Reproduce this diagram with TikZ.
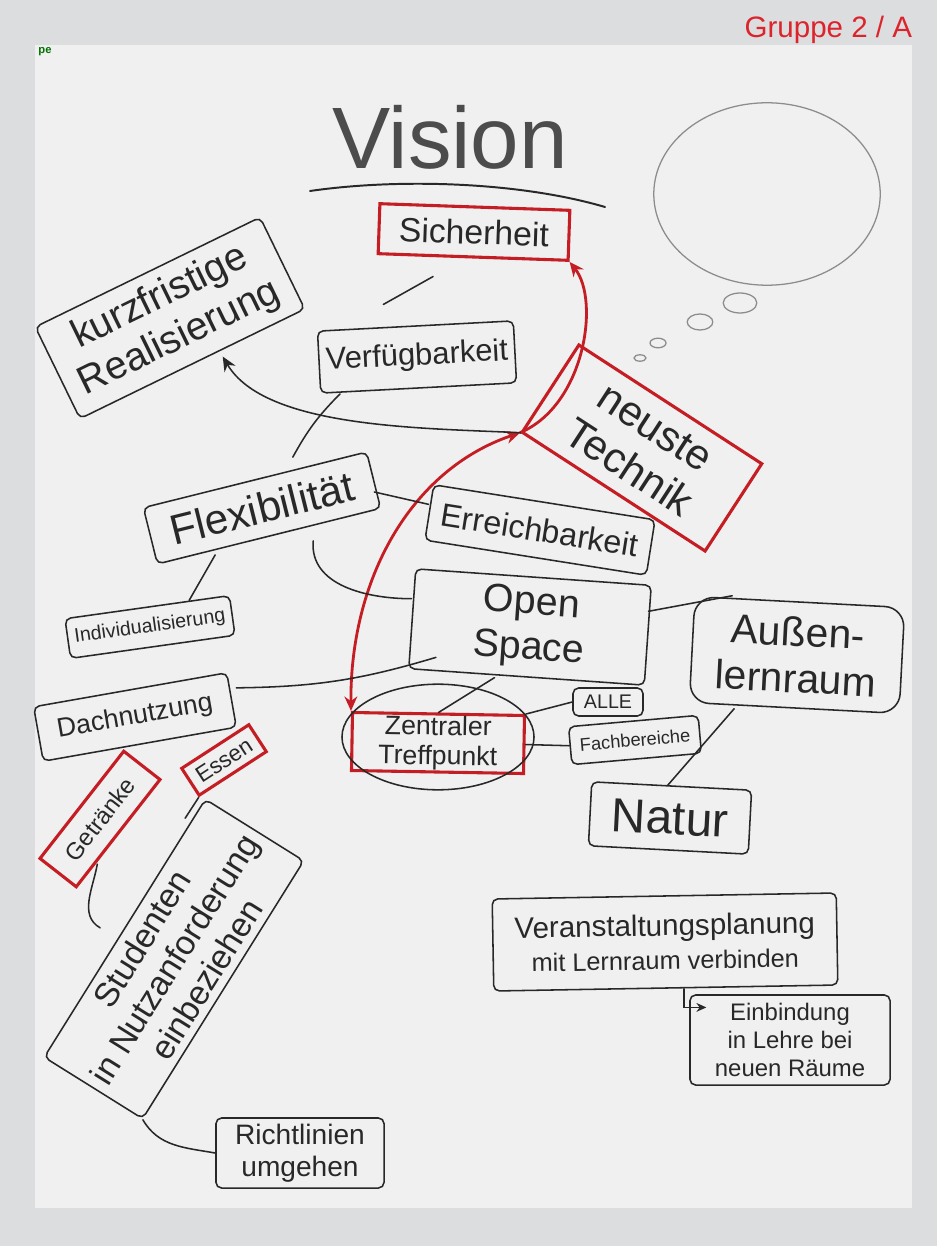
\documentclass[tikz,border=0pt]{standalone}
\usepackage{fontspec}
\setmainfont{Liberation Sans}
\usepackage{tikz}
\usetikzlibrary{arrows.meta, calc}

\definecolor{frame}{RGB}{220,221,223}
\definecolor{paper}{RGB}{240,240,240}
\definecolor{ink}{RGB}{40,40,40}
\definecolor{markred}{RGB}{196,30,36}
\definecolor{titlered}{RGB}{220,36,44}
\newcommand{\hfs}[2]{\fontsize{#1}{#2}\selectfont}

\begin{document}
\begin{tikzpicture}[
    x=0.025cm, y=-0.025cm,
    hbox/.style={rectangle, draw=ink, line width=1.1pt, rounded corners=4pt, align=center, text=ink},
    redbox/.style={rectangle, draw=markred, line width=2.2pt, align=center, text=ink},
    link/.style={draw=ink, line width=1.1pt, line cap=round},
    arrow/.style={link, -{Stealth[length=3.6mm, width=3.2mm]}},
    redarrow/.style={draw=markred, line width=2pt, line cap=round},
    bubble/.style={draw=black!45, line width=0.9pt},
]
\useasboundingbox (0,0) rectangle (937,1246);

% Sheet
\fill[frame] (0,0) rectangle (937,1246);
\fill[paper] (35,45) rectangle (912,1208);
\node[font=\hfs{21}{24}, text=titlered, anchor=east] (title) at (917,30) {Gruppe 2 / A};
\node[font=\hfs{8}{9}\bfseries, text=green!45!black] (mark) at (45,52) {pe};

% Heading and thought bubble
\node[font=\hfs{62}{62}, text=black!70] (vision) at (450,137) {Vision};
\coordinate (ul1) at (310,191);
\coordinate (ul2) at (605,207);
\draw[draw=ink, line width=1.4pt, line cap=round] (ul1) .. controls (400,178) and (520,182) .. (ul2);
\draw[bubble] (767,194) ellipse [x radius=2.83cm, y radius=2.28cm];
\draw[bubble] (740,303) ellipse [x radius=0.42cm, y radius=0.25cm];
\draw[bubble] (700,322) ellipse [x radius=0.32cm, y radius=0.2cm];
\draw[bubble] (658,343) ellipse [x radius=0.2cm, y radius=0.12cm];
\draw[bubble] (640,358) ellipse [x radius=0.15cm, y radius=0.08cm];

% Upper nodes
\node[redbox, minimum width=4.75cm, minimum height=1.25cm, rotate=-2, font=\hfs{24}{28}] (sich) at (474,232) {Sicherheit};
\node[hbox, minimum width=6.25cm, minimum height=2.55cm, rotate=26, font=\hfs{28}{32}] (kurz) at (170,318) {kurzfristige\\Realisierung};
\node[hbox, minimum width=4.9cm, minimum height=1.55cm, rotate=3, font=\hfs{22}{26}] (verf) at (417,357) {Verfügbarkeit};
\node[redbox, minimum width=5.45cm, minimum height=2.6cm, rotate=-33, font=\hfs{30}{34}] (nt) at (642,448) {neuste\\Technik};

% Middle nodes
\node[hbox, minimum width=5.75cm, minimum height=1.45cm, rotate=14, font=\hfs{30}{34}] (flex) at (262,508) {Flexibilität};
\node[hbox, minimum width=5.6cm, minimum height=1.4cm, rotate=-9, font=\hfs{23}{27}] (erreich) at (540,530) {Erreichbarkeit};
\node[hbox, minimum width=5.9cm, minimum height=2.5cm, rotate=-4, font=\hfs{28}{32}] (open) at (530,627) {Open\\Space};
\node[hbox, rounded corners=14pt, minimum width=5.25cm, minimum height=2.65cm, rotate=-3, font=\hfs{29}{33}] (aussen) at (797,655) {Außen-\\lernraum};
\node[hbox, minimum width=4cm, minimum height=1.6cm, rotate=-3, font=\hfs{34}{38}] (natur) at (670,818) {Natur};
\node[hbox, minimum width=4.15cm, minimum height=1cm, rotate=8, font=\hfs{14}{16}] (indiv) at (150,627) {Individualisierung};
\node[hbox, minimum width=4.9cm, minimum height=1.38cm, rotate=10, font=\hfs{19}{22}] (dach) at (135,717) {Dachnutzung};

% Meeting point
\node[redbox, minimum width=4.3cm, minimum height=1.45cm, rotate=-1, inner sep=1pt, font=\hfs{19}{21}] (zt) at (438,743) {Zentraler\\Treffpunkt};
\draw[link] ([yshift=0.15cm]zt.center) ellipse [x radius=2.4cm, y radius=1.32cm];
\node[hbox, minimum width=1.75cm, minimum height=0.7cm, font=\hfs{14}{16}] (alle) at (608,702) {ALLE};
\node[hbox, minimum width=3.25cm, minimum height=0.95cm, rotate=5, font=\hfs{13}{15}] (fach) at (635,740) {Fachbereiche};

% Lower left nodes
\node[redbox, minimum width=2cm, minimum height=0.8cm, rotate=33, inner sep=1pt, font=\hfs{16}{18}] (essen) at (224,760) {Essen};
\node[redbox, minimum width=3.4cm, minimum height=1.15cm, rotate=52, font=\hfs{17}{19}] (getr) at (100,819) {Getränke};
\node[hbox, minimum width=7.6cm, minimum height=2.9cm, rotate=58, font=\hfs{24}{27}] (stud) at (174,959) {Studenten\\in Nutzanforderung\\einbeziehen};
\node[hbox, minimum width=4.2cm, minimum height=1.75cm, font=\hfs{20}{23}] (richt) at (300,1153) {Richtlinien\\umgehen};

% Lower right nodes
\node[hbox, minimum width=8.6cm, minimum height=2.3cm, rotate=1, font=\hfs{21}{24}] (veran) at (665,942) {Veranstaltungsplanung\\{\hfs{18}{20}mit Lernraum verbinden}};
\node[hbox, minimum width=5cm, minimum height=2.25cm, font=\hfs{17}{20}] (einb) at (790,1040) {Einbindung\\in Lehre bei\\neuen Räume};

% Red path
\draw[redarrow, {Stealth[length=3.6mm, width=3.2mm]}-{Stealth[length=3.6mm, width=3.2mm]}] (zt.north west) .. controls (350,580) and (410,470) .. (nt.south west);
\draw[redarrow, -{Stealth[length=3.6mm, width=3.2mm]}] (nt.south west) .. controls (585,405) and (600,300) .. (sich.south east);

% Black connectors
\draw[arrow] (nt.south west) .. controls (420,428) and (265,428) .. ([xshift=0.75cm, yshift=0.2cm]kurz.south);
\draw[link] ([xshift=-1cm, yshift=-0.45cm]sich.south) -- ([xshift=-0.8cm, yshift=0.52cm]verf.north);
\draw[link] ([xshift=0.5cm]verf.south west) to[bend right=8] ([xshift=0.95cm, yshift=0.55cm]flex.north);
\draw[link] ([yshift=-0.3cm]flex.east) -- ([yshift=0.2cm]erreich.west);
\draw[link] ([xshift=-1.35cm, yshift=-0.45cm]flex.south) -- ([xshift=1.05cm, yshift=0.15cm]indiv.north);
\draw[link] ([xshift=1.1cm, yshift=-0.1cm]flex.south) to[out=-95, in=180] ([yshift=0.5cm]open.west);
\draw[link] ([xshift=0.7cm, yshift=0.3cm]open.south west) to[bend left=8] ([xshift=0.1cm, yshift=0.3cm]dach.east);
\draw[link] ([xshift=-0.8cm]open.south) -- (zt.north);
\draw[link] ([yshift=0.6cm]open.east) -- ([xshift=0.95cm]aussen.north west);
\draw[link] ([xshift=-1.5cm]aussen.south) -- ([xshift=-0.1cm]natur.north);
\draw[link] (zt.north east) -- (alle.west);
\draw[link] (zt.east) -- (fach.west);
\draw[link] ([xshift=0.52cm, yshift=0.62cm]getr.south west) to[out=-100, in=150] ([xshift=-0.6cm]stud.north);
\draw[link] (essen.south west) -- ([xshift=-0.5cm, yshift=-0.5cm]stud.north east);
\draw[link] (stud.south west) to[out=-60, in=170] (richt.west);
\draw[arrow, -{Stealth[length=2.5mm, width=2.2mm]}] ([xshift=0.45cm]veran.south) |- ([xshift=0.43cm, yshift=-0.33cm]einb.north west);

\end{tikzpicture}
\end{document}
